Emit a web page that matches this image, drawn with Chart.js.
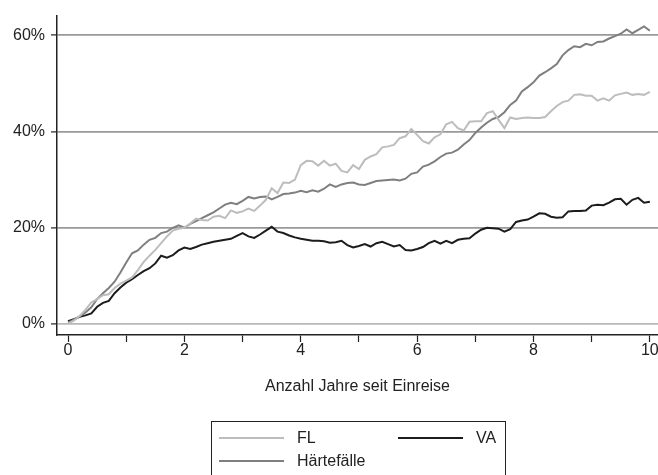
<!DOCTYPE html>
<html>
<head>
<meta charset="utf-8">
<script src="https://cdn.jsdelivr.net/npm/chart.js@4/dist/chart.umd.min.js"></script>
<style>
  html, body { margin: 0; padding: 0; background: #fff; }
  #wrap { width: 658px; height: 475px; }
</style>
</head>
<body>
<div id="wrap"><canvas id="chart" width="658" height="475"></canvas></div>
<script>
// Jahre seit Einreise (Schritt 0.1)
const years = [
  0, 0.1, 0.2, 0.3, 0.4, 0.5, 0.6, 0.7, 0.8, 0.9,
  1, 1.1, 1.2, 1.3, 1.4, 1.5, 1.6, 1.7, 1.8, 1.9,
  2, 2.1, 2.2, 2.3, 2.4, 2.5, 2.6, 2.7, 2.8, 2.9,
  3, 3.1, 3.2, 3.3, 3.4, 3.5, 3.6, 3.7, 3.8, 3.9,
  4, 4.1, 4.2, 4.3, 4.4, 4.5, 4.6, 4.7, 4.8, 4.9,
  5, 5.1, 5.2, 5.3, 5.4, 5.5, 5.6, 5.7, 5.8, 5.9,
  6, 6.1, 6.2, 6.3, 6.4, 6.5, 6.6, 6.7, 6.8, 6.9,
  7, 7.1, 7.2, 7.3, 7.4, 7.5, 7.6, 7.7, 7.8, 7.9,
  8, 8.1, 8.2, 8.3, 8.4, 8.5, 8.6, 8.7, 8.8, 8.9,
  9, 9.1, 9.2, 9.3, 9.4, 9.5, 9.6, 9.7, 9.8, 9.9,
  10
];

// Anteil in %
const fl = [
  0.1, 0.7, 1.7, 3.0, 4.5, 5.2, 6.0, 6.2, 7.5, 8.4,
  9.0, 9.7, 11.2, 12.9, 14.2, 15.4, 16.8, 18.2, 19.4, 19.8,
  20.0, 20.9, 21.9, 21.6, 21.5, 22.3, 22.5, 22.0, 23.6, 23.1,
  23.4, 24.0, 23.5, 24.6, 25.8, 28.2, 27.2, 29.4, 29.3, 30.0,
  33.0, 33.9, 33.8, 32.9, 33.9, 32.9, 33.3, 31.8, 31.5, 33.0,
  32.2, 34.1, 34.8, 35.3, 36.7, 36.9, 37.2, 38.6, 39.0, 40.5,
  39.3, 38.0, 37.5, 38.8, 39.4, 41.5, 42.0, 40.7, 40.2, 42.0,
  42.1, 42.1, 43.8, 44.2, 42.4, 40.7, 42.9, 42.6, 42.8, 42.9,
  42.8, 42.8, 43.0, 44.2, 45.3, 46.1, 46.4, 47.6, 47.7, 47.4,
  47.4, 46.4, 46.9, 46.4, 47.5, 47.8, 48.1, 47.6, 47.8, 47.6,
  48.2
];

const haertefaelle = [
  0.3, 0.9, 1.6, 2.4, 3.5, 5.2, 6.4, 7.5, 8.8, 10.7,
  12.8, 14.7, 15.3, 16.5, 17.5, 17.9, 18.9, 19.2, 20.0, 20.5,
  20.0, 20.8, 21.4, 22.0, 22.6, 23.2, 24.0, 24.8, 25.2, 24.9,
  25.6, 26.4, 26.1, 26.4, 26.5, 25.9, 26.4, 27.0, 27.1, 27.3,
  27.7, 27.4, 27.8, 27.5, 28.1, 29.0, 28.5, 29.0, 29.3, 29.4,
  29.0, 28.9, 29.3, 29.7, 29.8, 29.9, 30.0, 29.8, 30.2, 31.2,
  31.5, 32.7, 33.1, 33.8, 34.7, 35.4, 35.6, 36.2, 37.3, 38.2,
  39.7, 40.8, 41.8, 42.6, 43.0, 44.0, 45.5, 46.4, 48.3, 49.2,
  50.2, 51.6, 52.3, 53.1, 54.0, 55.8, 56.9, 57.7, 57.5, 58.2,
  57.9, 58.6, 58.7, 59.3, 59.8, 60.3, 61.2, 60.4, 61.1, 61.8,
  60.9
];

const va = [
  0.6, 1.0, 1.5, 1.8, 2.2, 3.6, 4.4, 4.8, 6.4, 7.6,
  8.6, 9.3, 10.2, 11.0, 11.6, 12.6, 14.2, 13.8, 14.3, 15.3,
  15.9, 15.6, 16.0, 16.5, 16.8, 17.1, 17.3, 17.5, 17.7, 18.3,
  18.9, 18.2, 17.9, 18.6, 19.4, 20.2, 19.2, 18.9, 18.4, 18.0,
  17.7, 17.5, 17.3, 17.3, 17.2, 16.9, 17.0, 17.3, 16.4, 15.9,
  16.2, 16.6, 16.1, 16.8, 17.1, 16.6, 16.1, 16.4, 15.4, 15.3,
  15.6, 16.0, 16.8, 17.3, 16.7, 17.3, 16.8, 17.5, 17.7, 17.8,
  18.8, 19.6, 20.0, 19.9, 19.8, 19.2, 19.7, 21.2, 21.5, 21.7,
  22.3, 23.0, 22.9, 22.3, 22.1, 22.2, 23.4, 23.5, 23.5, 23.6,
  24.6, 24.8, 24.7, 25.2, 25.9, 26.0, 24.8, 25.8, 26.2, 25.2,
  25.4
];

const xTicks = [0, 1, 2, 3, 4, 5, 6, 7, 8, 9, 10];
const yTicks = [0, 20, 40, 60];

const toPoints = vals => vals.map((v, i) => ({ x: years[i], y: v }));

Chart.defaults.font.family = '"Liberation Sans", Arial, sans-serif';
Chart.defaults.font.size = 16;
Chart.defaults.color = '#222';

// Legende mit Rahmen, zwei Spalten wie im Original
const boxLegend = {
  id: 'boxLegend',
  afterDraw(chart) {
    const ctx = chart.ctx;
    const ds = chart.data.datasets;
    ctx.save();
    ctx.strokeStyle = '#222';
    ctx.lineWidth = 1;
    ctx.strokeRect(211.5, 421.5, 294, 70);
    const items = [
      { d: ds[0], x: 219, y: 438 },
      { d: ds[2], x: 398, y: 438 },
      { d: ds[1], x: 219, y: 461 }
    ];
    ctx.font = '16px "Liberation Sans", Arial, sans-serif';
    ctx.textBaseline = 'middle';
    ctx.fillStyle = '#222';
    items.forEach(it => {
      ctx.strokeStyle = it.d.borderColor;
      ctx.lineWidth = 2;
      ctx.beginPath();
      ctx.moveTo(it.x, it.y);
      ctx.lineTo(it.x + 65, it.y);
      ctx.stroke();
      ctx.fillText(it.d.label, it.x + 78, it.y + 1);
    });
    ctx.restore();
  }
};

new Chart(document.getElementById('chart').getContext('2d'), {
  type: 'line',
  data: {
    datasets: [
      { label: 'FL', data: toPoints(fl), borderColor: '#bdbdbd', borderWidth: 2 },
      { label: 'Härtefälle', data: toPoints(haertefaelle), borderColor: '#7f7f7f', borderWidth: 2 },
      { label: 'VA', data: toPoints(va), borderColor: '#1c1c1c', borderWidth: 2 }
    ]
  },
  options: {
    responsive: false,
    animation: false,
    devicePixelRatio: 1,
    elements: { point: { radius: 0 }, line: { tension: 0 } },
    layout: { padding: { left: 0, top: 13, right: 0, bottom: 80 } },
    plugins: { legend: { display: false }, tooltip: { enabled: false } },
    scales: {
      x: {
        type: 'linear',
        min: -0.19,
        max: 10.14,
        afterBuildTicks: s => { s.ticks = xTicks.map(v => ({ value: v })); },
        afterFit: s => { s.height = 60; },
        ticks: {
          padding: -1,
          maxRotation: 0,
          autoSkip: false,
          callback: v => (v % 2 === 0 ? v : '')
        },
        grid: { drawOnChartArea: false, tickLength: 7, tickColor: '#222', tickWidth: 1.2 },
        border: { color: '#222', width: 1.5 },
        title: {
          display: true,
          text: 'Anzahl Jahre seit Einreise',
          font: { size: 16 },
          padding: { top: 0, bottom: -1 }
        }
      },
      y: {
        min: -2.27,
        max: 64.06,
        afterBuildTicks: s => { s.ticks = yTicks.map(v => ({ value: v })); },
        afterFit: s => { s.width = 57; },
        ticks: { padding: 6, callback: v => v + '%' },
        grid: {
          color: ctx => (ctx.tick && ctx.tick.value === 0 ? '#b8b8b8' : '#999'),
          lineWidth: 1.8,
          tickLength: 6,
          tickColor: '#222',
          tickWidth: 1.2
        },
        border: { color: '#222', width: 1.5 }
      }
    }
  },
  plugins: [boxLegend]
});
</script>
</body>
</html>
